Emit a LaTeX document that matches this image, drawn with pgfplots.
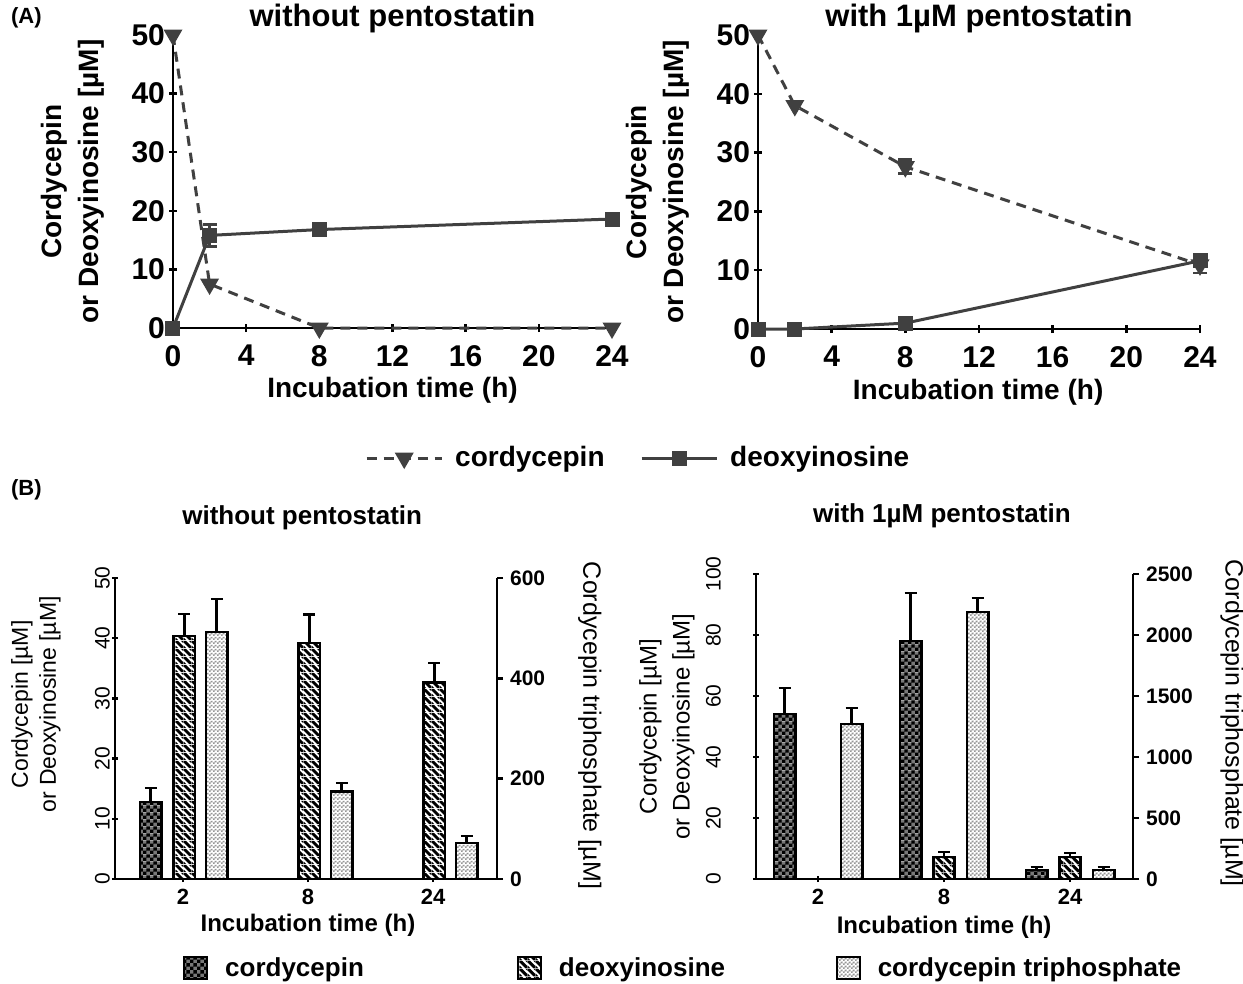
\documentclass[border=0pt]{standalone}
\usepackage{fontspec}
\setmainfont{Liberation Sans}
\usepackage{pgfplots}
\pgfplotsset{compat=1.18}
\usetikzlibrary{patterns}

\definecolor{lg}{RGB}{64,64,64}
\definecolor{cgray}{RGB}{120,120,120}
\definecolor{lgray}{RGB}{150,150,150}

\pgfdeclarepatterninherentlycolored{cordpat}{\pgfpointorigin}{\pgfqpoint{3.4pt}{3.4pt}}{\pgfqpoint{3.4pt}{3.4pt}}{%
  \pgfsetfillcolor{cgray}%
  \pgfpathrectangle{\pgfpointorigin}{\pgfqpoint{3.4pt}{3.4pt}}\pgfusepath{fill}%
  \pgfsetfillcolor{black}%
  \pgfpathrectangle{\pgfpointorigin}{\pgfqpoint{1.7pt}{1.7pt}}%
  \pgfpathrectangle{\pgfqpoint{1.7pt}{1.7pt}}{\pgfqpoint{1.7pt}{1.7pt}}%
  \pgfusepath{fill}}
\pgfdeclarepatterninherentlycolored{ctppat}{\pgfpointorigin}{\pgfqpoint{1.8pt}{1.8pt}}{\pgfqpoint{1.8pt}{1.8pt}}{%
  \pgfsetfillcolor{white}%
  \pgfpathrectangle{\pgfpointorigin}{\pgfqpoint{1.8pt}{1.8pt}}\pgfusepath{fill}%
  \pgfsetfillcolor{lgray}%
  \pgfpathrectangle{\pgfpointorigin}{\pgfqpoint{0.9pt}{0.9pt}}%
  \pgfpathrectangle{\pgfqpoint{0.9pt}{0.9pt}}{\pgfqpoint{0.9pt}{0.9pt}}%
  \pgfusepath{fill}}
\pgfdeclarepatterninherentlycolored{deoxpat}{\pgfpointorigin}{\pgfqpoint{4pt}{4pt}}{\pgfqpoint{4pt}{4pt}}{%
  \pgfsetfillcolor{white}%
  \pgfpathrectangle{\pgfpointorigin}{\pgfqpoint{4pt}{4pt}}\pgfusepath{fill}%
  \pgfsetfillcolor{black}%
  \pgfpathmoveto{\pgfqpoint{0pt}{4pt}}\pgfpathlineto{\pgfqpoint{1.15pt}{4pt}}%
  \pgfpathlineto{\pgfqpoint{4pt}{1.15pt}}\pgfpathlineto{\pgfqpoint{4pt}{0pt}}%
  \pgfpathlineto{\pgfqpoint{2.85pt}{0pt}}\pgfpathlineto{\pgfqpoint{0pt}{2.85pt}}\pgfpathclose
  \pgfusepath{fill}%
  \pgfpathmoveto{\pgfqpoint{0pt}{0pt}}\pgfpathlineto{\pgfqpoint{1.15pt}{0pt}}%
  \pgfpathlineto{\pgfqpoint{0pt}{1.15pt}}\pgfpathclose
  \pgfusepath{fill}%
  \pgfpathmoveto{\pgfqpoint{4pt}{4pt}}\pgfpathlineto{\pgfqpoint{2.85pt}{4pt}}%
  \pgfpathlineto{\pgfqpoint{4pt}{2.85pt}}\pgfpathclose
  \pgfusepath{fill}}

\tikzset{
  cordfill/.style={draw=black, pattern=cordpat},
  deoxfill/.style={draw=black, pattern=deoxpat},
  ctpfill/.style={draw=black, pattern=ctppat},
  fA/.style={font=\fontsize{14}{18.5}\selectfont\bfseries},
  fAt/.style={font=\fontsize{15}{18}\selectfont\bfseries},
}

\pgfplotsset{
  every axis/.append style={scale only axis, clip=false,
    /pgf/number format/assume math mode=true, /pgf/number format/1000 sep={},
    scaled y ticks=false,
    every tick/.style={line width=1.2pt, black},
    tick align=outside},
  nolinearrow/.style={axis line style={line width=1.2pt, -}, x axis line style={-}, y axis line style={-}},
  barerr/.style={error bars/.cd, y dir=plus, y explicit,
    error bar style={line width=1.3pt, black, solid},
    error mark options={rotate=90, line width=1.3pt, mark size=3pt, black}},
}

\begin{document}
\begin{tikzpicture}
\useasboundingbox (0,0) rectangle (621.5pt,-492pt);
\node[font=\fontsize{11}{13}\selectfont\bfseries, anchor=west] at (2pt,-9pt) {(A)};
\node[font=\fontsize{11}{13}\selectfont\bfseries, anchor=west] at (2pt,-245pt) {(B)};

% ---------- Panel A left ----------
\begin{axis}[at={(86.5pt,-164pt)}, anchor=south west, width=219.5pt, height=146.5pt,
  xmin=0, xmax=24, ymin=0, ymax=50, axis lines=left, nolinearrow,
  xtick={0,4,...,24}, ytick={0,10,...,50}, major tick length=4pt,
  xticklabel style={fAt, yshift=-3pt}, yticklabel style={fAt, xshift=1.5pt},
  xlabel={Incubation time (h)}, xlabel style={fA, at={(axis description cs:0.5,-0.212)}, anchor=center},
  ylabel={Cordycepin\\or Deoxyinosine [µM]}, ylabel style={fA, align=center, at={(axis description cs:-0.228,0.5)}, anchor=center},
  title={without pentostatin}, title style={font=\fontsize{15.5}{18}\selectfont\bfseries, at={(axis description cs:0.5,1.017)}, anchor=center, yshift=0pt},
  legend columns=2,
  legend style={at={(axis description cs:0.437,-0.444)}, anchor=west, draw=none, fill=none,
    inner sep=0pt, cells={anchor=west}, nodes={inner sep=0pt, fA},
    /tikz/every odd column/.append style={column sep=6pt}},
  legend image code/.code={\draw[mark repeat=2,mark phase=2,#1] plot coordinates {(0pt,0pt) (18.75pt,0pt) (37.5pt,0pt)};},
]
\addplot[color=lg, line width=1.5pt, dash pattern=on 5pt off 3.5pt, mark=triangle*, mark size=4pt, mark options={solid, rotate=180}]
  coordinates {(0,50) (2,7.5) (8,0) (24,0)};
\addlegendentry{\makebox[92.5pt][l]{cordycepin}}
\addplot[color=lg, line width=1.5pt, mark=square*, mark size=3pt, mark options={solid}]
  coordinates {(0,0) (2,15.8) (8,16.8) (24,18.6)};
\addlegendentry{deoxyinosine}
\addplot[forget plot, draw=none, mark=none, error bars/.cd, y dir=both, y explicit,
  error bar style={line width=1.3pt, lg, solid}, error mark options={rotate=90, line width=1.3pt, mark size=3.5pt, lg}]
  coordinates {(2,15.8) +- (0,1.9)};
\end{axis}

% ---------- Panel A right ----------
\begin{axis}[at={(379pt,-164.5pt)}, anchor=south west, width=221pt, height=147pt,
  xmin=0, xmax=24, ymin=0, ymax=50, axis lines=left, nolinearrow,
  xtick={0,4,...,24}, ytick={0,10,...,50}, major tick length=4pt,
  xticklabel style={fAt, yshift=-3pt}, yticklabel style={fAt, xshift=1.5pt},
  xlabel={Incubation time (h)}, xlabel style={fA, at={(axis description cs:0.498,-0.215)}, anchor=center},
  ylabel={Cordycepin\\or Deoxyinosine [µM]}, ylabel style={fA, align=center, at={(axis description cs:-0.226,0.5)}, anchor=center},
  title={with 1µM pentostatin}, title style={font=\fontsize{15.5}{18}\selectfont\bfseries, at={(axis description cs:0.5,1.017)}, anchor=center, yshift=0pt},
]
\addplot[color=lg, line width=1.5pt, dash pattern=on 5pt off 3.5pt, mark=triangle*, mark size=4pt, mark options={solid, rotate=180}]
  coordinates {(0,50) (2,38) (8,27.6) (24,10.9)};
\addplot[color=lg, line width=1.5pt, mark=square*, mark size=3pt, mark options={solid}]
  coordinates {(0,0) (2,0) (8,1.0) (24,11.6)};
\addplot[draw=none, mark=none, error bars/.cd, y dir=both, y explicit,
  error bar style={line width=1.3pt, lg, solid}, error mark options={rotate=90, line width=1.3pt, mark size=3.5pt, lg}]
  coordinates {(8,27.6) +- (0,1.2) (24,10.9) +- (0,1.4) (24,11.6) +- (0,0.8)};
\end{axis}

% ---------- Panel B left ----------
\begin{axis}[at={(57.5pt,-439.5pt)}, anchor=south west, width=191pt, height=150.5pt,
  xmin=-0.544, xmax=2.512, ymin=0, ymax=50,
  axis x line=bottom, axis y line=left, nolinearrow,
  xtick={0,1,2}, xticklabels={2,8,24}, ytick={0,10,...,50}, major tick length=3pt,
  xticklabel style={font=\fontsize{11}{13}\selectfont\bfseries},
  yticklabel style={font=\fontsize{10.5}{12}\selectfont, rotate=90, anchor=south, yshift=-2.5pt},
  xlabel={Incubation time (h)}, xlabel style={font=\fontsize{12}{14}\selectfont\bfseries, at={(axis description cs:0.505,-0.153)}, anchor=center},
  ylabel={Cordycepin [µM]\\or Deoxyinosine [µM]}, ylabel style={font=\fontsize{11.5}{14}\selectfont, align=center, at={(axis description cs:-0.207,0.58)}, anchor=center},
  title={without pentostatin}, title style={font=\fontsize{13}{15}\selectfont\bfseries, at={(axis description cs:0.49,1.16)}, anchor=center, yshift=0pt},
  bar width=0.171, 
  legend columns=3,
  legend style={at={(axis description cs:0.178,-0.296)}, anchor=west, draw=none, fill=none,
    inner sep=0pt, cells={anchor=west}, nodes={inner sep=0pt, font=\fontsize{13}{15}\selectfont\bfseries},
    /tikz/every odd column/.append style={column sep=8.5pt}},
  legend image code/.code={\draw[#1, line width=0.9pt] (0pt,-5.5pt) rectangle (11.5pt,5.5pt);},
]
\addplot[forget plot, ybar, bar shift=0, cordfill, line width=1.3pt, barerr]
  coordinates {(-0.258,12.8) +- (0,2.3)};
\addplot[forget plot, ybar, bar shift=0, deoxfill, line width=1.3pt, barerr]
  coordinates {(0.01,40.4) +- (0,3.6) (1.01,39.2) +- (0,4.7) (2.01,32.6) +- (0,3.3)};
\addlegendimage{cordfill}
\addlegendentry{\makebox[146pt][l]{cordycepin}}
\addlegendimage{deoxfill}
\addlegendentry{\makebox[138.5pt][l]{deoxyinosine}}
\addlegendimage{ctpfill}
\addlegendentry{cordycepin triphosphate}
\end{axis}
\begin{axis}[at={(57.5pt,-439.5pt)}, anchor=south west, width=191pt, height=150.5pt,
  xmin=-0.544, xmax=2.512, ymin=0, ymax=600,
  axis y line*=right, axis x line=none, nolinearrow,
  ytick={0,200,400,600}, major tick length=3pt,
  yticklabel style={font=\fontsize{10.5}{12}\selectfont\bfseries},
  ylabel={Cordycepin triphosphate [µM]}, ylabel style={font=\fontsize{12.5}{14}\selectfont, rotate=180, at={(axis description cs:1.243,0.51)}, anchor=center},
  bar width=0.171,
]
\addplot[ybar, bar shift=0, ctpfill, line width=1.3pt, barerr]
  coordinates {(0.27,492) +- (0,66) (1.27,175) +- (0,16) (2.27,72) +- (0,14)};
\end{axis}

% ---------- Panel B right ----------
\begin{axis}[at={(378pt,-439.5pt)}, anchor=south west, width=188.5pt, height=152.5pt,
  xmin=-0.492, xmax=2.5, ymin=0, ymax=100,
  axis x line=bottom, axis y line=left, nolinearrow,
  xtick={0,1,2}, xticklabels={2,8,24}, ytick={0,20,...,100}, major tick length=3pt,
  xticklabel style={font=\fontsize{11}{13}\selectfont\bfseries},
  yticklabel style={font=\fontsize{10.5}{12}\selectfont, rotate=90, anchor=south, yshift=12.5pt},
  xlabel={Incubation time (h)}, xlabel style={font=\fontsize{12}{14}\selectfont\bfseries, at={(axis description cs:0.499,-0.157)}, anchor=center},
  ylabel={Cordycepin [µM]\\or Deoxyinosine [µM]}, ylabel style={font=\fontsize{12}{16.5}\selectfont, align=center, at={(axis description cs:-0.236,0.5)}, anchor=center},
  title={with 1µM pentostatin}, title style={font=\fontsize{13}{15}\selectfont\bfseries, at={(axis description cs:0.493,1.151)}, anchor=center, yshift=0pt},
  bar width=0.17,
]
\addplot[ybar, bar shift=0, cordfill, line width=1.3pt, barerr]
  coordinates {(-0.264,54.1) +- (0,8.5) (0.736,78.0) +- (0,15.8) (1.736,3.0) +- (0,0.9)};
\addplot[ybar, bar shift=0, deoxfill, line width=1.3pt, barerr]
  coordinates {(1,7.2) +- (0,1.7) (2,7.2) +- (0,1.3)};
\end{axis}
\begin{axis}[at={(378pt,-439.5pt)}, anchor=south west, width=188.5pt, height=152.5pt,
  xmin=-0.492, xmax=2.5, ymin=0, ymax=2500,
  axis y line*=right, axis x line=none, nolinearrow,
  ytick={0,500,...,2500}, major tick length=3pt,
  yticklabel style={font=\fontsize{10.5}{12}\selectfont\bfseries},
  ylabel={Cordycepin triphosphate [µM]}, ylabel style={font=\fontsize{12.5}{14}\selectfont, rotate=180, at={(axis description cs:1.263,0.51)}, anchor=center},
  bar width=0.17,
]
\addplot[ybar, bar shift=0, ctpfill, line width=1.3pt, barerr]
  coordinates {(0.267,1271) +- (0,131) (1.267,2189) +- (0,115) (2.267,75) +- (0,25)};
\end{axis}
\end{tikzpicture}
\end{document}
